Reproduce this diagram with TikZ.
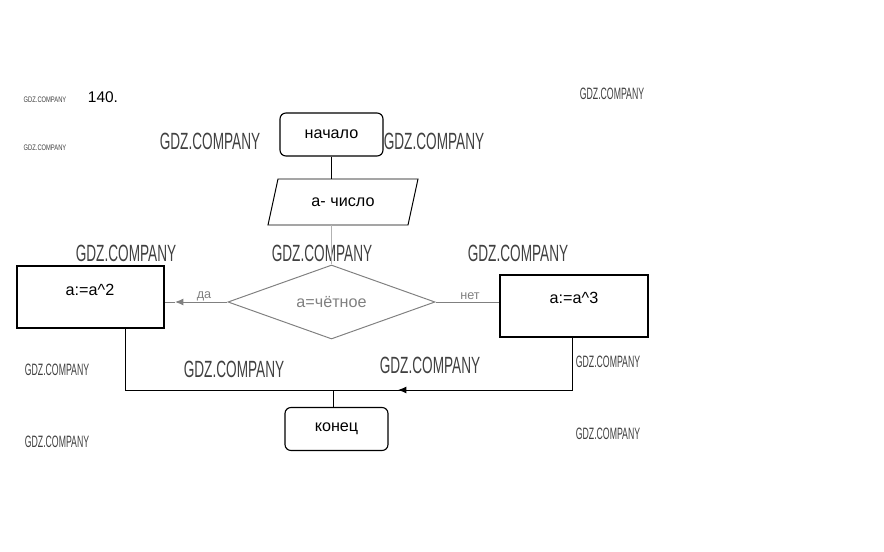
\documentclass[tikz,border=0pt]{standalone}
\usepackage{fontspec}
\setmainfont{Liberation Sans}
\usetikzlibrary{shapes.geometric}
\usetikzlibrary{arrows.meta}

\definecolor{wmgray}{HTML}{404040}
\newcommand\gdz[1]{\scalebox{#1}[1]{GDZ.COMPANY}}

\tikzset{
  txt/.style={inner sep=1pt, font=\fontsize{11.5}{13}\selectfont},
  lbl/.style={inner sep=1pt, text=gray, font=\fontsize{9}{10}\selectfont},
  startstop/.style={draw, line width=0.8pt, rounded corners=0.15cm, minimum width=2.575cm, minimum height=1.075cm, txt},
  procbox/.style={draw, line width=1.4pt, minimum width=3.675cm, minimum height=1.55cm},
  decision/.style={draw=gray, diamond, aspect=2.8, inner sep=0pt, minimum width=5.175cm, minimum height=1.85cm, txt, text=gray},
  wmbig/.style={inner sep=0pt, text=wmgray, font=\fontsize{16.7}{17}\selectfont},
  wmmid/.style={inner sep=0pt, text=wmgray, font=\fontsize{11.7}{12}\selectfont},
  wmsmall/.style={inner sep=0pt, text=wmgray, font=\fontsize{5.7}{6}\selectfont}
}

\begin{document}
\begin{tikzpicture}[x=0.025cm, y=-0.025cm, >={Latex[length=6pt,width=5pt]}, line width=0.7pt]
  \useasboundingbox (0,0) rectangle (884,552);
  % watermarks
  \node[wmsmall] (wm1) at (45,100) {\gdz{0.72}};
  \node[wmsmall] (wm2) at (45,148) {\gdz{0.72}};
  \node[wmmid] (wm3) at (612,94) {\gdz{0.53}};
  \node[wmmid] (wm4) at (57,370) {\gdz{0.53}};
  \node[wmmid] (wm5) at (57,442) {\gdz{0.53}};
  \node[wmmid] (wm6) at (608,362) {\gdz{0.53}};
  \node[wmmid] (wm7) at (608,434) {\gdz{0.53}};
  \node[wmbig] (wm8) at (210,141) {\gdz{0.58}};
  \node[wmbig] (wm9) at (434,141) {\gdz{0.58}};
  \node[wmbig] (wm10) at (126,253) {\gdz{0.58}};
  \node[wmbig] (wm11) at (322,253) {\gdz{0.58}};
  \node[wmbig] (wm12) at (518,253) {\gdz{0.58}};
  \node[wmbig] (wm13) at (234,369) {\gdz{0.58}};
  \node[wmbig] (wm14) at (430,365) {\gdz{0.58}};

  \node[txt, font=\fontsize{11}{12}\selectfont] (num) at (103,97) {140.};

  % blocks
  \node[startstop] (start) at (331.5,134.5) {начало};
  \draw (278,179) -- (418,179) -- (408,225) -- (268,225) -- cycle;
  \node[txt] (inp) at (343,202) {а- число};
  \coordinate (inptop) at (331.5,179);
  \coordinate (inpbot) at (331.5,225);
  \node[decision] (dec) at (331.5,302) {а=чётное};
  \node[procbox] (lbox) at (90.5,297) {};
  \node[txt] (ltext) at (90,290) {а:=а\textasciicircum 2};
  \node[procbox] (rbox) at (574,306) {};
  \node[txt] (rtext) at (574,298) {а:=а\textasciicircum 3};
  \node[startstop] (endn) at (336.5,429) {конец};

  % connectors
  \draw (start) -- (inptop);
  \draw[gray!60] (inpbot) -- (dec.north);
  \coordinate (datip) at (175,302);
  \draw[gray, ->] (dec.west) -- (datip);
  \draw[gray] (datip) -- (lbox.east |- datip);
  \node[lbl] (da) at (204,296) {да};
  \draw[gray] (dec.east) -- (rbox.west |- dec.east);
  \node[lbl] (net) at (470,296) {нет};
  \coordinate (lturn) at (125,390);
  \coordinate (rturn) at (572,390);
  \coordinate (join) at (333,390);
  \coordinate (rtip) at (398,390);
  \draw (lbox.south -| lturn) -- (lturn) -- (join);
  \draw (rbox.south -| rturn) -- (rturn) -- (join);
  \draw[->] (rturn) -- (rtip);
  \draw (join) -- (join |- endn.north);
\end{tikzpicture}
\end{document}
